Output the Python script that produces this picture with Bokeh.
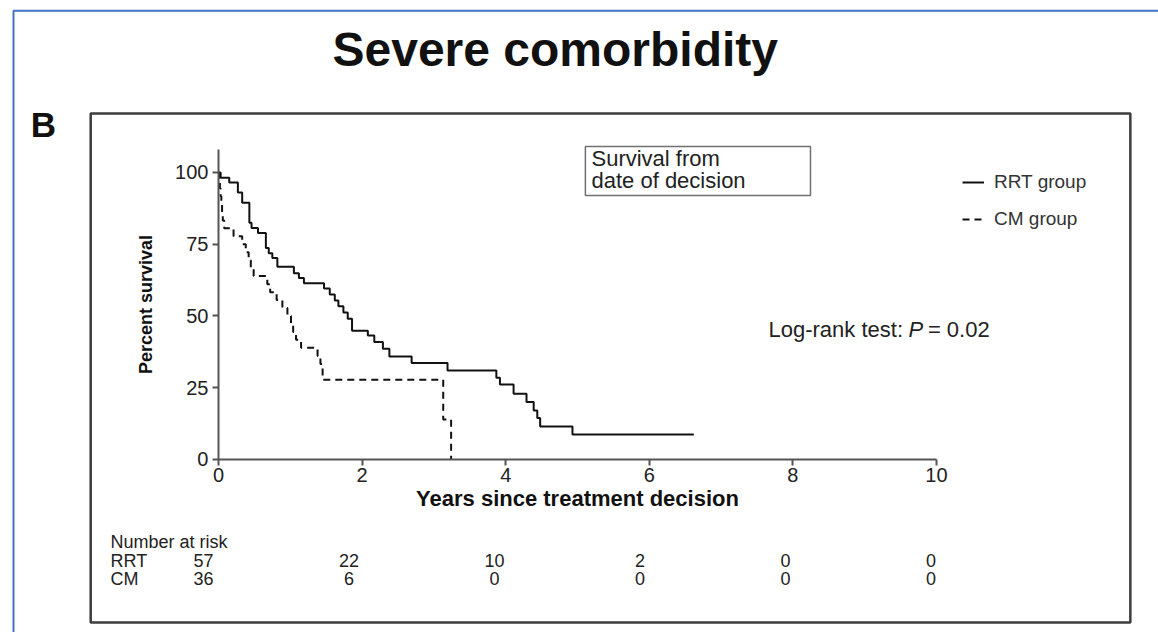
from bokeh.plotting import figure
from bokeh.models import (Label, BoxAnnotation, Legend, LegendItem, FixedTicker,
                          Range1d, LinearAxis)
from bokeh.embed import file_html
from bokeh.resources import INLINE

# ---------------- data ----------------
rrt_time = [0, 0.03, 0.15, 0.27, 0.33, 0.43, 0.46, 0.55, 0.66, 0.70, 0.75, 0.82,
            1.05, 1.12, 1.19, 1.47, 1.55, 1.62, 1.67, 1.74, 1.80, 1.86, 2.08, 2.17,
            2.29, 2.38, 2.69, 3.19, 3.87, 3.92, 4.11, 4.29, 4.39, 4.44, 4.48, 4.93, 6.62]
rrt_surv = [100, 98.2, 96.5, 93.0, 89.5, 82.5, 80.7, 78.9, 73.7, 71.9, 70.2, 67.2,
            64.9, 63.2, 61.4, 59.6, 57.5, 55.4, 53.4, 51.2, 49.0, 44.9, 43.2, 40.9,
            38.6, 35.9, 33.6, 31.0, 28.5, 26.1, 22.9, 20.0, 17.1, 14.5, 11.5, 8.7, 8.7]

cm_time = [0, 0.01, 0.02, 0.03, 0.04, 0.05, 0.06, 0.08, 0.21, 0.33, 0.38, 0.42,
           0.45, 0.49, 0.68, 0.72, 0.81, 0.89, 0.96, 1.01, 1.04, 1.08, 1.15, 1.38,
           1.42, 1.45, 3.13, 3.24]
cm_surv = [100, 97.2, 94.4, 91.7, 88.9, 86.1, 83.3, 80.6, 77.8, 75.0, 72.2, 69.4,
           66.7, 63.9, 61.1, 58.3, 55.6, 52.8, 50.0, 47.2, 44.4, 41.7, 38.9, 36.1,
           33.3, 27.8, 13.9, 0]

x_ticks = [0, 2, 4, 6, 8, 10]
y_ticks = [0, 25, 50, 75, 100]

risk_times = [0, 2, 4, 6, 8, 10]
risk_rrt = [57, 22, 10, 2, 0, 0]
risk_cm = [36, 6, 0, 0, 0, 0]
risk_groups = ["RRT", "CM"]

FONT = "Liberation Sans"
W, H = 1158, 632

# ---------------- figure (frame covers whole canvas) ----------------
p = figure(width=W, height=H, output_backend="svg", toolbar_location=None,
           x_range=Range1d(-3.036, 13.092), y_range=Range1d(-60.28, 159.93),
           x_axis_location=None, y_axis_location=None,
           min_border_left=0, min_border_right=0,
           min_border_top=0, min_border_bottom=0)
p.title.visible = False
p.background_fill_color = "white"
p.border_fill_color = "white"
p.outline_line_color = None
p.grid.visible = False

r1 = p.step(rrt_time, rrt_surv, mode="after", line_color="#111111", line_width=2)
r2 = p.step(cm_time, cm_surv, mode="after", line_color="#111111", line_width=2,
            line_dash="7 5")

xaxis = LinearAxis(fixed_location=0, bounds=(0, 10), ticker=FixedTicker(ticks=x_ticks))
yaxis = LinearAxis(fixed_location=0, bounds=(0, 108), ticker=FixedTicker(ticks=y_ticks))
for ax in (xaxis, yaxis):
    ax.axis_line_color = "#555555"
    ax.axis_line_width = 2
    ax.major_tick_line_color = "#555555"
    ax.major_tick_line_width = 2
    ax.major_tick_out = 6
    ax.major_tick_in = 0
    ax.minor_tick_line_color = None
    ax.major_label_text_font = FONT
    ax.major_label_text_font_size = "20px"
    ax.major_label_text_color = "#222222"
xaxis.major_label_standoff = 3
yaxis.major_label_standoff = 4

xaxis.axis_label = "Years since treatment decision"
xaxis.axis_label_text_font = FONT
xaxis.axis_label_text_font_style = "bold"
xaxis.axis_label_text_font_size = "22px"
xaxis.axis_label_text_color = "#111111"
xaxis.axis_label_standoff = 0

yaxis.axis_label = "Percent survival"
yaxis.axis_label_text_font = FONT
yaxis.axis_label_text_font_style = "bold"
yaxis.axis_label_text_font_size = "18px"
yaxis.axis_label_text_color = "#111111"
yaxis.axis_label_standoff = 16

p.add_layout(xaxis, "below")
p.add_layout(yaxis, "left")

# ---------------- frames ----------------
p.add_layout(BoxAnnotation(left=-2.855, right=14, top=156.4, bottom=-70,
                           fill_alpha=0, line_color="#4472c4", line_alpha=1.0,
                           line_width=2))
p.add_layout(BoxAnnotation(left=-1.78, right=12.70, top=120.6, bottom=-56.8,
                           fill_alpha=0, line_color="#3c3c3c", line_alpha=1.0,
                           line_width=2.5))

# ---------------- texts ----------------
def lab(x, y, text, size, style="normal", align="left", color="#111111"):
    p.add_layout(Label(x=x, y=y, text=text, text_font=FONT,
                       text_font_size=f"{size}px", text_font_style=style,
                       text_align=align, text_baseline="middle",
                       text_color=color))

lab(4.69, 142.9, "Severe comorbidity", 48, "bold", "center")
lab(-2.437, 116.7, "B", 35, "bold", "center")

# inset box
p.add_layout(BoxAnnotation(left=5.11, right=8.245, top=109.1, bottom=92.0,
                           fill_alpha=0, line_color="#707070", line_alpha=1.0,
                           line_width=1.5))
lab(5.195, 104.9, "Survival from", 22, color="#222222")
lab(5.195, 97.2, "date of decision", 22, color="#222222")

# log-rank
lab(7.66, 45.3, "Log-rank test:", 22, color="#222222")
lab(9.61, 45.3, "P", 22, "italic", color="#222222")
lab(9.88, 45.3, "= 0.02", 22, color="#222222")

# legend
legend = Legend(items=[LegendItem(label="RRT group", renderers=[r1]),
                       LegendItem(label="CM group", renderers=[r2])],
                location=(962, 402), orientation="vertical")
legend.border_line_color = None
legend.background_fill_alpha = 0
legend.padding = 0
legend.margin = 0
legend.spacing = 15
legend.glyph_width = 22
legend.glyph_height = 20
legend.label_height = 20
legend.label_standoff = 10
legend.label_text_font = FONT
legend.label_text_font_size = "19px"
legend.label_text_color = "#333333"
p.add_layout(legend)

# number at risk table
lab(-1.504, -28.6, "Number at risk", 18, color="#222222")
row_y = [-35.2, -41.5]
for g, yy in zip(risk_groups, row_y):
    lab(-1.504, yy, g, 18, color="#222222")
risk_x = [t * 1.0135 - 0.21 for t in risk_times]
for vals, yy in zip([risk_rrt, risk_cm], row_y):
    for xx, v in zip(risk_x, vals):
        lab(xx, yy, str(v), 18, align="center", color="#222222")

open("out.html", "w").write(file_html(p, INLINE))
